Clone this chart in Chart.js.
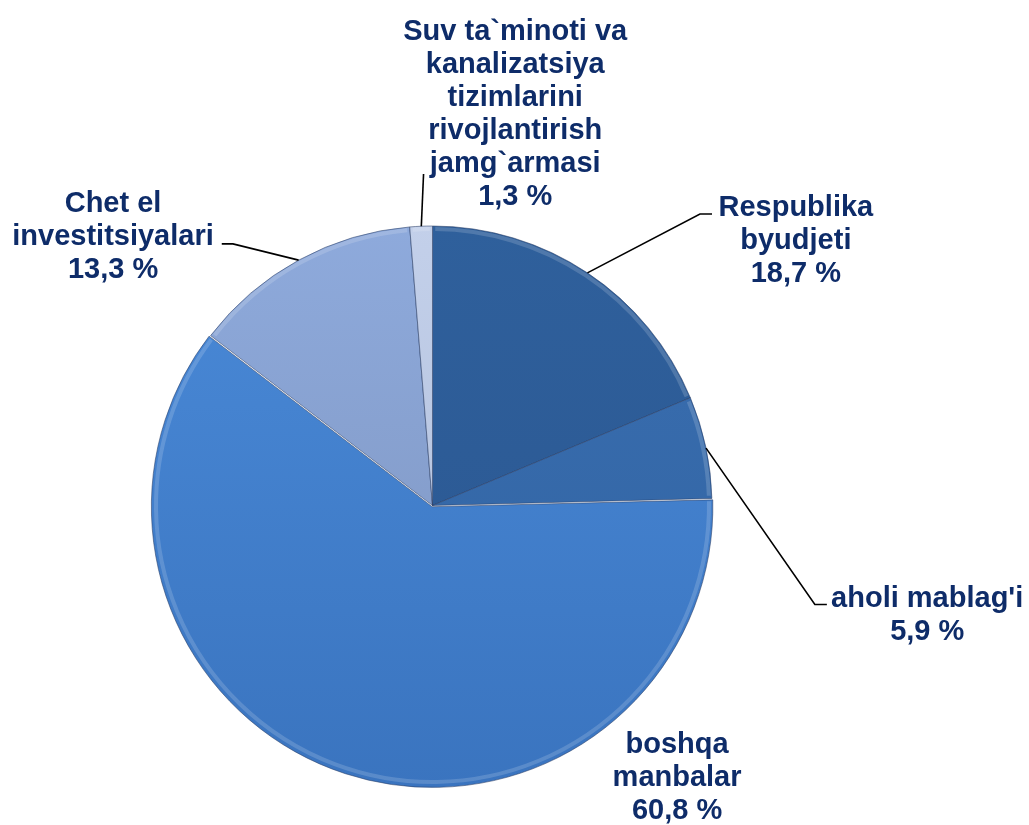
<!DOCTYPE html>
<html>
<head>
<meta charset="utf-8">
<script src="https://cdn.jsdelivr.net/npm/chart.js@4/dist/chart.umd.min.js"></script>
<style>
  html, body { margin: 0; padding: 0; background: #ffffff; }
  #wrap { width: 1029px; height: 825px; position: relative; }
</style>
</head>
<body>
<div id="wrap"><canvas id="c" width="1029" height="825"></canvas></div>
<script>
// ---- data ----
const categories = [
  ["Respublika", "byudjeti"],
  ["aholi mablag'i"],
  ["boshqa", "manbalar"],
  ["Chet el", "investitsiyalari"],
  ["Suv ta`minoti va", "kanalizatsiya", "tizimlarini", "rivojlantirish", "jamg`armasi"]
];
const shares = [18.7, 5.9, 60.8, 13.3, 1.3];
const shareLabels = ["18,7 %", "5,9 %", "60,8 %", "13,3 %", "1,3 %"];

// ---- styles ----
const topColors    = ["#2f609c", "#3a6fb2", "#4a8ad8", "#8eaadc", "#c3d0ea"];
const bottomColors = ["#2a5690", "#30629f", "#3a74bf", "#7d93bd", "#aebcd8"];
const sliceOffsets = [0, 0, 5, 0, 0];
const textColor = "#0e2c69";
const FONT = "bold 29px 'Liberation Sans', Arial, sans-serif";
const LINE_H = 33;

// label placement in radius units from pie centre: text block centre, leader elbow/end
const labelPlace = [
  { tx: 1.30,   ty: -0.946, lines: [[0.957, -1.043], [1.0, -1.043]],   edgeFrac: 0.50 },
  { tx: 1.77,   ty: 0.394,  lines: [[1.368, 0.354], [1.411, 0.354]],   edgeFrac: 0.51 },
  { tx: 0.875,  ty: 0.975,  lines: null },
  { tx: -1.143, ty: -0.960, lines: [[-0.714, -0.936], [-0.754, -0.936]], edgeFrac: 0.50 },
  { tx: 0.296,  ty: -1.40,  lines: [[-0.032, -1.186]],                 edgeFrac: 0.51 }
];

function gradFill(ctx, i) {
  const area = ctx.chart.chartArea;
  if (!area) return topColors[i];
  const g = ctx.chart.ctx.createLinearGradient(0, area.top, 0, area.bottom);
  g.addColorStop(0, topColors[i]);
  g.addColorStop(1, bottomColors[i]);
  return g;
}

const labelPlugin = {
  id: 'pieLabels',
  afterDatasetsDraw(chart) {
    const ctx = chart.ctx;
    const meta = chart.getDatasetMeta(0);
    ctx.save();
    meta.data.forEach((arc) => {
      const p = arc.getProps(['x','y','startAngle','endAngle','outerRadius'], true);
      ctx.beginPath();
      ctx.arc(p.x, p.y, p.outerRadius - 3, p.startAngle + 0.01, p.endAngle - 0.01);
      ctx.strokeStyle = 'rgba(255,255,255,0.16)';
      ctx.lineWidth = 4;
      ctx.stroke();
    });
    const cx = chart.chartArea.left + chart.chartArea.width / 2;
    const cy = chart.chartArea.top + chart.chartArea.height / 2;
    meta.data.forEach((arc, i) => {
      const p = arc.getProps(['x','y','startAngle','endAngle','outerRadius'], true);
      const R = p.outerRadius;
      const lp = labelPlace[i];
      if (lp.lines) {
        const a = p.startAngle + (p.endAngle - p.startAngle) * lp.edgeFrac;
        ctx.beginPath();
        ctx.moveTo(p.x + Math.cos(a) * R, p.y + Math.sin(a) * R);
        lp.lines.forEach(pt => ctx.lineTo(cx + pt[0] * R, cy + pt[1] * R));
        ctx.strokeStyle = '#000000';
        ctx.lineWidth = 1.6;
        ctx.stroke();
      }
      const lines = categories[i].concat([shareLabels[i]]);
      ctx.font = FONT;
      ctx.fillStyle = textColor;
      ctx.textAlign = 'center';
      ctx.textBaseline = 'middle';
      const x0 = cx + lp.tx * R;
      const y0 = cy + lp.ty * R - (lines.length - 1) * LINE_H / 2;
      lines.forEach((t, k) => ctx.fillText(t, x0, y0 + k * LINE_H));
    });
    ctx.restore();
  }
};

new Chart(document.getElementById('c'), {
  type: 'pie',
  data: {
    labels: categories.map(c => c.join(' ')),
    datasets: [{
      data: shares,
      backgroundColor: (ctx) => gradFill(ctx, ctx.dataIndex),
      borderColor: 'rgba(40,60,100,0.55)',
      borderWidth: 1,
      offset: sliceOffsets
    }]
  },
  options: {
    responsive: false,
    animation: false,
    devicePixelRatio: 1,
    layout: { padding: { left: 150, right: 314, top: 223, bottom: 37 } },
    plugins: { legend: { display: false }, tooltip: { enabled: false } }
  },
  plugins: [labelPlugin]
});
</script>
</body>
</html>
